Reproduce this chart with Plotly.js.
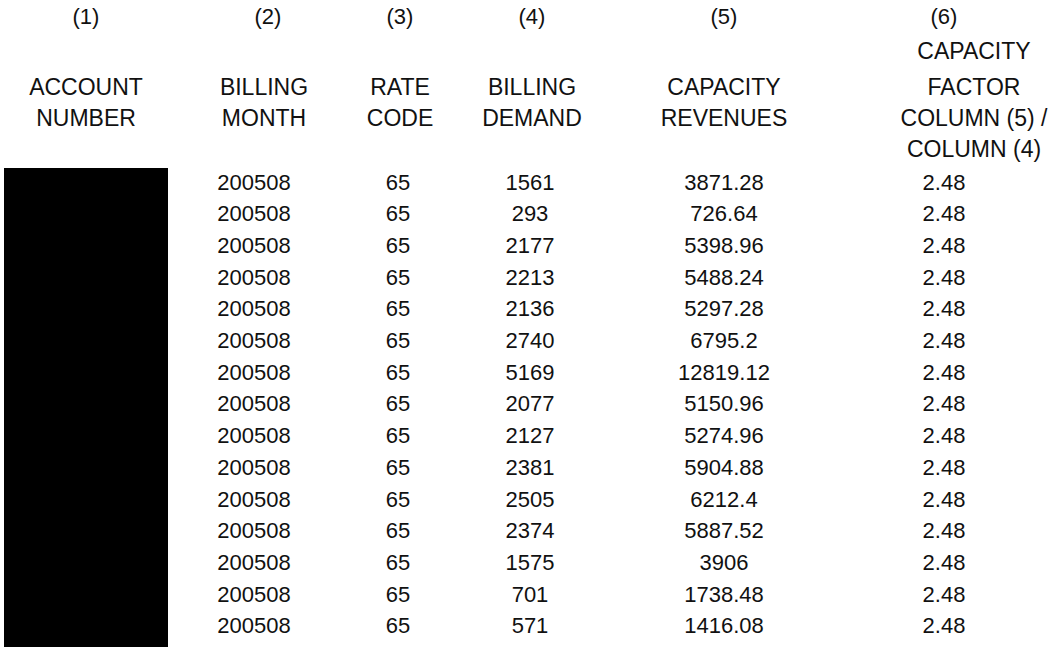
<!DOCTYPE html>
<html>
<head>
<meta charset="utf-8">
<script src="https://cdn.plot.ly/plotly-3.0.1.min.js"></script>
<style>
  html, body { margin: 0; padding: 0; background: #ffffff; }
  #chart { width: 1063px; height: 647px; }
</style>
</head>
<body>
<div id="chart"></div>
<script>
// ---------- DATA ----------
const columnNumbers = ["(1)", "(2)", "(3)", "(4)", "(5)", "(6)"];
const columnHeaders = [
  ["", "ACCOUNT", "NUMBER", ""],
  ["", "BILLING", "MONTH", ""],
  ["", "RATE", "CODE", ""],
  ["", "BILLING", "DEMAND", ""],
  ["", "CAPACITY", "REVENUES", ""],
  ["CAPACITY", "FACTOR", "COLUMN (5) /", "COLUMN (4)"]
];
const billingMonth = ["200508","200508","200508","200508","200508","200508","200508","200508","200508","200508","200508","200508","200508","200508","200508"];
const rateCode = ["65","65","65","65","65","65","65","65","65","65","65","65","65","65","65"];
const billingDemand = [1561, 293, 2177, 2213, 2136, 2740, 5169, 2077, 2127, 2381, 2505, 2374, 1575, 701, 571];
const capacityRevenues = [3871.28, 726.64, 5398.96, 5488.24, 5297.28, 6795.2, 12819.12, 5150.96, 5274.96, 5904.88, 6212.4, 5887.52, 3906, 1738.48, 1416.08];
const capacityFactor = [2.48, 2.48, 2.48, 2.48, 2.48, 2.48, 2.48, 2.48, 2.48, 2.48, 2.48, 2.48, 2.48, 2.48, 2.48];

// ---------- LAYOUT CONSTANTS ----------
const numX    = [86, 268, 400, 532, 724, 944];   // "(n)" centres
const headX   = [86, 264, 400, 532, 724, 974];   // header text centres
const dataX   = [86, 254, 398, 530, 724, 944];   // data centres
const numRowY = 18;
const headerY = [53, 89, 120, 151];
const dataTop = 184, dataStep = 31.7;
const FONT = "Liberation Sans, Arial, Helvetica, sans-serif";
const INK = "#111111";
const fsHead = 23, fsData = 22;

const rowY = billingDemand.map((_, i) => dataTop + i * dataStep);

function textTrace(xc, ys, texts, size) {
  return {
    type: "scatter", mode: "text",
    x: ys.map(() => xc), y: ys, text: texts,
    textposition: "middle center",
    textfont: { family: FONT, size: size, color: INK },
    hoverinfo: "skip", showlegend: false, cliponaxis: false
  };
}

const traces = [];
columnNumbers.forEach((t, c) => traces.push(textTrace(numX[c], [numRowY], [t], fsData)));
columnHeaders.forEach((lines, c) => {
  const ys = [], ts = [];
  lines.forEach((l, k) => { if (l) { ys.push(headerY[k]); ts.push(l); } });
  traces.push(textTrace(headX[c], ys, ts, fsHead));
});
traces.push(textTrace(dataX[1], rowY, billingMonth, fsData));
traces.push(textTrace(dataX[2], rowY, rateCode, fsData));
traces.push(textTrace(dataX[3], rowY, billingDemand.map(String), fsData));
traces.push(textTrace(dataX[4], rowY, capacityRevenues.map(String), fsData));
traces.push(textTrace(dataX[5], rowY, capacityFactor.map(v => v.toFixed(2)), fsData));

// redacted account-number column (black block)
const redactHalfW = 82;
const shapes = [{
  type: "rect", xref: "x", yref: "y",
  x0: dataX[0] - redactHalfW, x1: dataX[0] + redactHalfW,
  y0: rowY[0] - 16, y1: 660,
  fillcolor: "#000000", line: { width: 0 }, layer: "below"
}];

const layout = {
  width: 1063, height: 647,
  margin: { l: 0, r: 0, t: 0, b: 0 },
  paper_bgcolor: "#ffffff", plot_bgcolor: "#ffffff",
  xaxis: { range: [0, 1063], visible: false, fixedrange: true },
  yaxis: { range: [647, 0], visible: false, fixedrange: true },
  shapes: shapes,
  showlegend: false
};

Plotly.newPlot("chart", traces, layout, { displayModeBar: false, staticPlot: true });
</script>
</body>
</html>
